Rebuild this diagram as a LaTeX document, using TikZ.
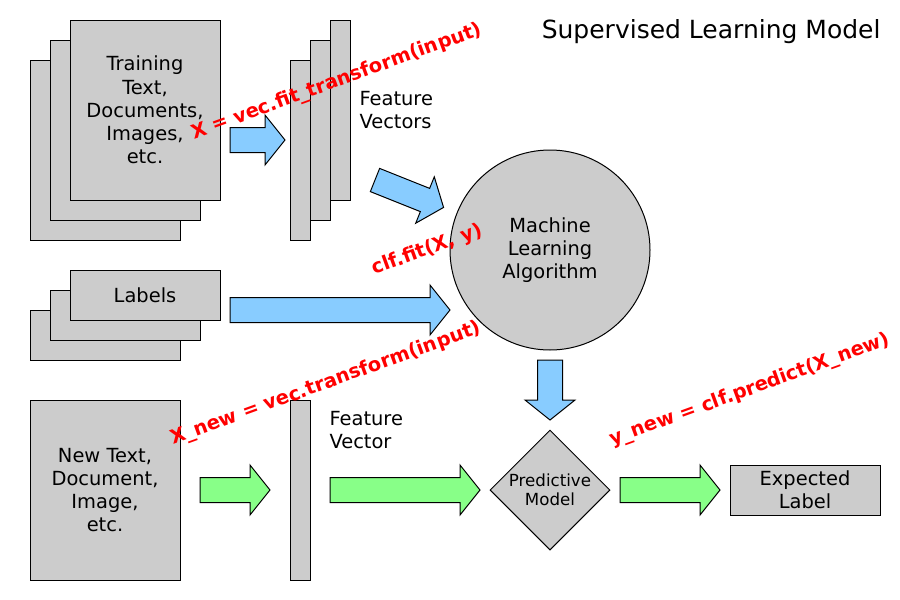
\documentclass[tikz,border=0pt]{standalone}
\usepackage{fontspec}
\setmainfont{DejaVu Sans}
\usetikzlibrary{shapes.geometric}
\definecolor{boxgray}{RGB}{204,204,204}
\definecolor{arrowblue}{RGB}{136,204,255}
\definecolor{arrowgreen}{RGB}{136,255,136}
% fat arrow: style, tail x, tail y, angle, body length
\newcommand{\fatarrow}[5]{%
  \begin{scope}[shift={(#2,#3)}, rotate=#4]
    \draw[#1] (0,-12.5) -- (#5,-12.5) -- (#5,-25) -- ({#5+20},0) -- (#5,25) -- (#5,12.5) -- (0,12.5) -- cycle;
  \end{scope}}

\begin{document}
\begin{tikzpicture}[x=1pt, y=-1pt, line width=1pt,
box/.style={draw, fill=boxgray, inner sep=0pt},
page/.style={box, minimum width=150pt, minimum height=180pt},
strip/.style={box, minimum width=20pt, minimum height=180pt},
tag/.style={box, minimum width=150pt, minimum height=50pt},
bluearrow/.style={draw, fill=arrowblue},
greenarrow/.style={draw, fill=arrowgreen},
txt/.style={align=center, inner sep=0pt, font=\fontsize{19.44}{23.2}\selectfont},
code/.style={text=red, rotate=20, inner sep=0pt, font=\fontsize{19.44}{23.2}\selectfont\bfseries}]
\useasboundingbox (0,0) rectangle (900,600);

%% training documents
\node [page] (train3) at (105,150) {};
\node [page] (train2) at (125,130) {};
\node [page] (train1) at (145,110) {};
\node [txt] (traintext) at (train1) {Training\\Text,\\Documents,\\Images,\\etc.};

%% feature vectors
\node [strip] (vec3) at (300,150) {};
\node [strip] (vec2) at (320,130) {};
\node [strip] (vec1) at (340,110) {};
\node [txt, align=left, anchor=west] (vectext) at (359,110) {Feature\\Vectors};

%% labels
\node [tag] (lab3) at (105,335) {};
\node [tag] (lab2) at (125,315) {};
\node [tag] (lab1) at (145,295) {};
\node [txt] (labtext) at (lab1) {Labels};

%% algorithm
\node [box, circle, minimum size=200pt] (algo) at (550,250) {};
\node [txt] (algotext) at (algo) {Machine\\Learning\\Algorithm};

%% new data
\node [page] (newdoc) at (105,490) {};
\node [txt] (newtext) at (newdoc) {New Text,\\Document,\\Image,\\etc.};
\node [strip] (newvec) at (300,490) {};
\node [txt, align=left, anchor=west] (newvectext) at (329,430) {Feature\\Vector};

%% predictive model, expected label
\node [box, diamond, minimum width=120pt, minimum height=120pt] (model) at (550,490) {};
\node [txt, font=\fontsize{16.67}{19}\selectfont] (modeltext) at (model) {Predictive\\Model};
\node [tag] (expected) at (805,490) {};
\node [txt] (exptext) at (expected) {Expected\\Label};

%% arrows
\fatarrow{bluearrow}{230}{140}{0}{35}
\fatarrow{bluearrow}{375}{180}{-21.8}{53.85}
\fatarrow{bluearrow}{230}{310}{0}{200}
\fatarrow{bluearrow}{550}{360}{-90}{40}
\fatarrow{greenarrow}{200}{490}{0}{50}
\fatarrow{greenarrow}{330}{490}{0}{130}
\fatarrow{greenarrow}{620}{490}{0}{80}

%% code
\node [code] (fitvec) at (337,82) {X = vec.fit\_transform(input)};
\node [code] (fitclf) at (427,250) {clf.fit(X, y)};
\node [code] (newvec) at (326,384) {X\_new = vec.transform(input)};
\node [code] (predict) at (750,390) {y\_new = clf.predict(X\_new)};

\node [font=\fontsize{25}{30}\selectfont, inner sep=0pt, anchor=base east] (title) at (881,38.3) {Supervised Learning Model};
\end{tikzpicture}
\end{document}
